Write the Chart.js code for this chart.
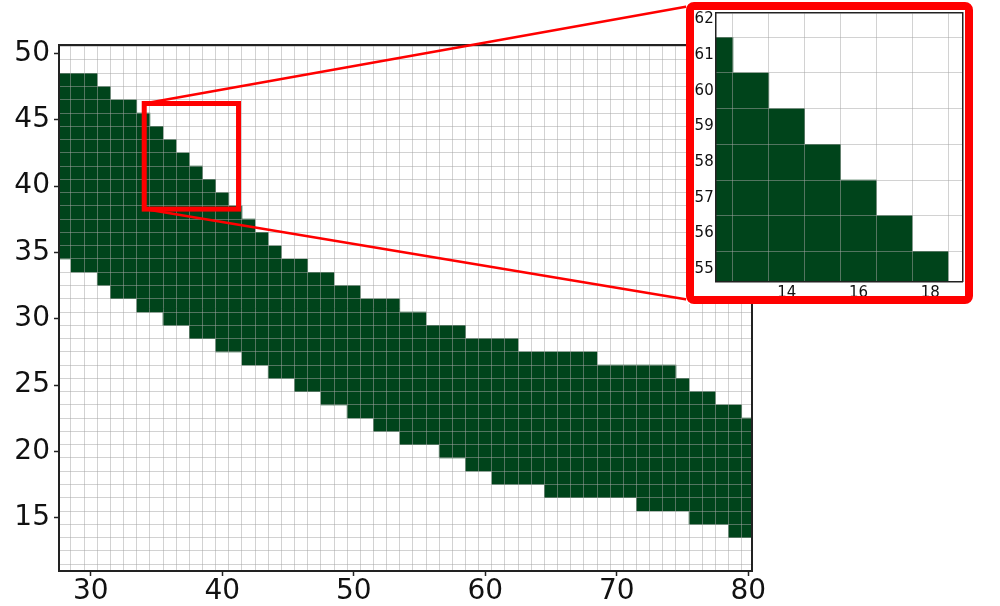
<!DOCTYPE html>
<html><head><meta charset="utf-8">
<script src="https://cdn.jsdelivr.net/npm/chart.js@4.4.1/dist/chart.umd.min.js"></script>
<style>
html,body{margin:0;padding:0;background:#fff;overflow:hidden;width:1000px;height:606px;}
#main{position:absolute;left:0;top:0;}
#inset{position:absolute;left:686px;top:2px;background:#fff;}
</style></head><body>
<canvas id="main" width="1000" height="606"></canvas>
<canvas id="inset" width="287" height="302"></canvas>
<script>
// ---------- data (main panel) ----------
const columns = [28,29,30,31,32,33,34,35,36,37,38,39,40,41,42,43,44,45,46,47,48,49,50,51,52,53,54,55,56,57,58,59,60,61,62,63,64,65,66,67,68,69,70,71,72,73,74,75,76,77,78,79,80];
const columnTops = [48,48,48,47,46,46,45,44,43,42,41,40,39,38,37,36,35,34,34,33,33,32,32,31,31,31,30,30,29,29,29,28,28,28,28,27,27,27,27,27,27,26,26,26,26,26,26,25,24,24,23,23,22];
const columnBottoms = [35,34,34,33,32,32,31,31,30,30,29,29,28,28,27,27,26,26,25,25,24,24,23,23,22,22,21,21,21,20,20,19,19,18,18,18,18,17,17,17,17,17,17,17,16,16,16,16,15,15,15,14,14];
const xTickLabels = [30,40,50,60,70,80];
const yTickLabels = [15,20,25,30,35,40,45,50];
const xRange = [27.59, 80.26];
const yRange = [10.98, 50.63];
const zoomBoxX = [34.07, 41.24];
const zoomBoxY = [38.26, 46.22];

// ---------- data (inset panel) ----------
const insetColumns = [12,13,14,15,16,17,18];
const insetTops = [61,60,59,58,57,56,55];
const insetBottoms = [54,54,54,54,54,54,54];
const insetXTicks = [14,16,18];
const insetYTicks = [55,56,57,58,59,60,61,62];
const insetXRange = [12.02, 18.9];
const insetYRange = [54.65, 62.18];

// ---------- style ----------
const GREEN = '#00441b';
const GRID = 'rgba(165,165,165,0.5)';
const SPINE = '#222';
const TEXT = '#111';
const FONT = 'DejaVu Sans';
const RED = '#ff0000';

function setTicks(values){ return s => { s.ticks = values.map(v => ({value:v})); }; }
function boundaries(r){ const out=[]; for(let v=Math.ceil(r[0]-0.5)+0.5; v<r[1]; v+=1){ if(v>r[0]) out.push(v);} return out; }

function buildScales(o){
  return {
    x:{type:'linear', position:'bottom', min:o.xr[0], max:o.xr[1], offset:false,
       afterBuildTicks:setTicks(o.xt), afterFit:s=>{s.height=o.xh;},
       grid:{drawOnChartArea:false, drawTicks:o.ticks, tickLength:5, tickColor:SPINE, tickWidth:1.5, offset:false, z:2},
       border:{display:true, color:SPINE, width:o.bw, z:3},
       ticks:{font:{family:FONT,size:o.fs}, color:TEXT, padding:o.xpad, maxRotation:0, autoSkip:false, z:3}},
    y:{type:'linear', position:'left', min:o.yr[0], max:o.yr[1],
       afterBuildTicks:setTicks(o.yt), afterFit:s=>{s.width=o.yw;},
       grid:{drawOnChartArea:false, drawTicks:o.ticks, tickLength:5, tickColor:SPINE, tickWidth:1.5, z:2},
       border:{display:true, color:SPINE, width:o.bw, z:3},
       ticks:{font:{family:FONT,size:o.fs}, color:TEXT, padding:o.ypad, autoSkip:false, z:3}},
    xg:{type:'linear', position:'top', min:o.xr[0], max:o.xr[1], offset:false,
       afterBuildTicks:setTicks(boundaries(o.xr)), afterFit:s=>{s.height=0;},
       grid:{color:GRID, lineWidth:1, drawTicks:false, offset:false, z:1},
       border:{display:true, color:SPINE, width:o.bw, z:3},
       ticks:{display:false}},
    yg:{type:'linear', position:'right', min:o.yr[0], max:o.yr[1],
       afterBuildTicks:setTicks(boundaries(o.yr)), afterFit:s=>{s.width=0;},
       grid:{color:GRID, lineWidth:1, drawTicks:false, z:1},
       border:{display:true, color:SPINE, width:o.bw, z:3},
       ticks:{display:false}}
  };
}

function cellBars(xs, tops, bottoms){
  return xs.map((c,i)=>({x:c, y:[bottoms[i]-0.5, tops[i]+0.5]}));
}

const zoomPlugin = {
  id:'zoomBox',
  afterDraw(chart){
    const {ctx, scales:{x,y}} = chart;
    const x1=x.getPixelForValue(zoomBoxX[0]), x2=x.getPixelForValue(zoomBoxX[1]);
    const y1=y.getPixelForValue(zoomBoxY[1]), y2=y.getPixelForValue(zoomBoxY[0]);
    ctx.save();
    ctx.strokeStyle=RED;
    ctx.lineWidth=2.5;
    ctx.beginPath();
    ctx.moveTo(x1,y1); ctx.lineTo(690,6);
    ctx.moveTo(x1,y2); ctx.lineTo(690,300);
    ctx.stroke();
    ctx.lineWidth=5;
    ctx.lineJoin='miter';
    ctx.strokeRect(x1,y1,x2-x1,y2-y1);
    ctx.restore();
  }
};

new Chart(document.getElementById('main'), {
  type:'bar',
  data:{datasets:[{data:cellBars(columns,columnTops,columnBottoms), backgroundColor:GREEN, borderWidth:0,
    barPercentage:1, categoryPercentage:1, xAxisID:'x', yAxisID:'y'}]},
  options:{responsive:false, animation:false, devicePixelRatio:1,
    layout:{padding:{left:0, top:45, right:248.3, bottom:0}},
    plugins:{legend:{display:false}, tooltip:{enabled:false}},
    scales:buildScales({xr:xRange, yr:yRange, xt:xTickLabels, yt:yTickLabels, xh:35, yw:59, fs:28, xpad:-1, ypad:4, ticks:true, bw:2})
  },
  plugins:[zoomPlugin]
});

const borderPlugin = {
  id:'insetBorder',
  afterDraw(chart){
    const ctx = chart.ctx;
    ctx.save();
    ctx.strokeStyle=RED; ctx.lineWidth=8;
    ctx.beginPath();
    ctx.roundRect(4,4,chart.width-8,chart.height-8,4);
    ctx.stroke();
    ctx.restore();
  }
};

new Chart(document.getElementById('inset'), {
  type:'bar',
  data:{datasets:[{data:cellBars(insetColumns,insetTops,insetBottoms), backgroundColor:GREEN, borderWidth:0,
    barPercentage:1, categoryPercentage:1, xAxisID:'x', yAxisID:'y'}]},
  options:{responsive:false, animation:false, devicePixelRatio:1,
    layout:{padding:{left:0, top:9.7, right:10.5, bottom:0}},
    plugins:{legend:{display:false}, tooltip:{enabled:false}},
    scales:buildScales({xr:insetXRange, yr:insetYRange, xt:insetXTicks, yt:insetYTicks, xh:22.3, yw:29.7, fs:15, xpad:2, ypad:2, ticks:false, bw:1.5})
  },
  plugins:[borderPlugin]
});
</script>
</body></html>
